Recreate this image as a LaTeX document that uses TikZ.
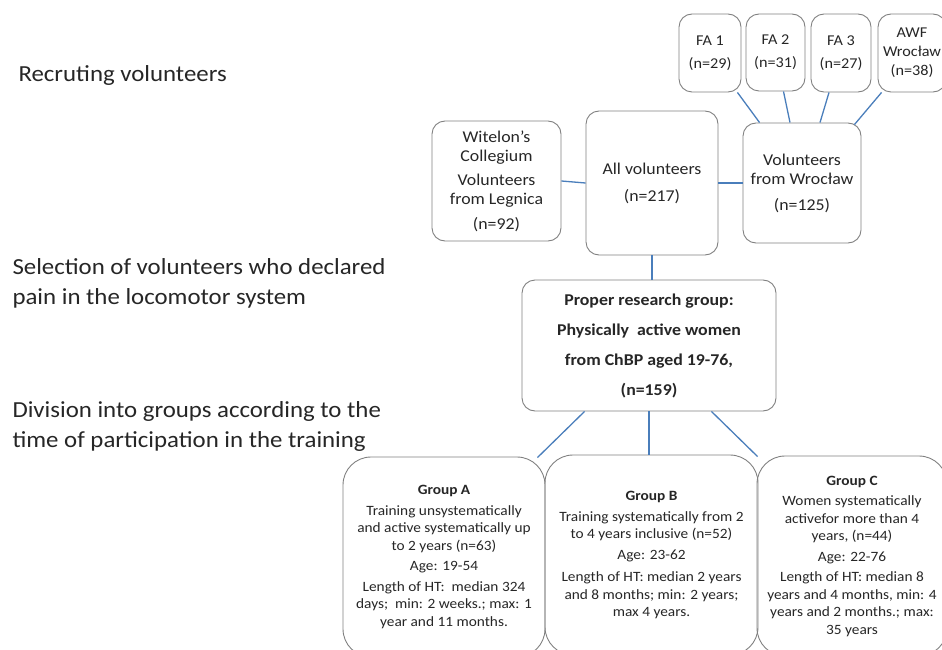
\documentclass[tikz,border=0pt]{standalone}
\usepackage{fontspec}
\setmainfont{Carlito}[FakeStretch=1.08]
\usetikzlibrary{calc}
\definecolor{enlaceazul}{RGB}{74,126,187}
\definecolor{bordegris}{RGB}{128,128,128}

\begin{document}
\begin{tikzpicture}[x=1pt,y=-1pt,
  caja/.style={draw=bordegris, line width=0.9pt, rounded corners=13pt, align=center,
    text=black!85, inner sep=1pt, font=\fontsize{16.5}{19}\selectfont},
  grupo/.style={draw=bordegris, line width=0.9pt, rounded corners=28pt, align=center,
    text=black!85, inner sep=1pt, minimum height=200pt, font=\fontsize{14.2}{17.5}\selectfont},
  enlace/.style={draw=enlaceazul, line width=1.3pt},
  rotulo/.style={anchor=west, align=left, text=black!85, font=\fontsize{23}{30}\selectfont}]
  \useasboundingbox (0,0) rectangle (942,650);
  \clip (0,0) rectangle (942,650);

  % Etapas
  \node[rotulo] (etapa1) at (15,75) {Recruting volunteers};
  \node[rotulo] (etapa2) at (9,283) {Selection of volunteers who declared\\pain in the locomotor system};
  \node[rotulo] (etapa3) at (9,426) {Division into groups according to the\\time of participation in the training};

  % Centros de reclutamiento
  \node[caja, minimum width=62pt, minimum height=78pt, font=\fontsize{15}{19}\selectfont] (fa1) at (710,53) {FA 1\\[4pt](n=29)};
  \node[caja, minimum width=59pt, minimum height=77pt, font=\fontsize{15}{19}\selectfont] (fa2) at (775.5,52.5) {FA 2\\[4pt](n=31)};
  \node[caja, minimum width=60pt, minimum height=78pt, font=\fontsize{15}{19}\selectfont] (fa3) at (841,53) {FA 3\\[4pt](n=27)};
  \node[caja, minimum width=68pt, minimum height=78pt, font=\fontsize{15}{19}\selectfont] (awf) at (912,53) {AWF\\Wrocław\\(n=38)};

  % Voluntarios
  \node[caja, minimum width=129pt, minimum height=120pt] (legnica) at (496.5,181)
    {Witelon's\\Collegium\\[5pt]Volunteers\\from Legnica\\[6pt](n=92)};
  \node[caja, minimum width=132pt, minimum height=144pt] (todos) at (652,183)
    {All volunteers\\[8pt](n=217)};
  \node[caja, minimum width=118pt, minimum height=120pt] (wroclaw) at (802,183)
    {Volunteers\\from Wrocław\\[7pt](n=125)};

  % Grupo propio
  \node[caja, minimum width=254pt, minimum height=131pt, font=\fontsize{16.5}{30}\selectfont\bfseries] (propio) at (649,345.5)
    {Proper research group:\\Physically\ \ active women\\from ChBP aged 19-76,\\(n=159)};

  % Grupos
  \node[grupo, minimum width=202pt] (grpA) at (444,557)
    {\textbf{Group A}\\[3pt]Training unsystematically\\and active systematically up\\to 2 years (n=63)\\[3pt]Age: 19-54\\[3pt]Length of HT:\ \ median 324\\days;\ \ min: 2 weeks.; max: 1\\year and 11 months.};
  \node[grupo, minimum width=213pt] (grpB) at (651.5,555)
    {\textbf{Group B}\\[3pt]Training systematically from 2\\to 4 years inclusive (n=52)\\[3pt]Age: 23-62\\[5pt]Length of HT: median 2 years\\and 8 months; min: 2 years;\\max 4 years.};
  \node[grupo, minimum width=190pt] (grpC) at (852,556)
    {\textbf{Group C}\\[3pt]Women systematically\\activefor more than 4\\years, (n=44)\\[3pt]Age: 22-76\\[3pt]Length of HT: median 8\\years and 4 months, min: 4\\years and 2 months.; max:\\35 years};

  % Enlaces
  \draw[enlace] ($(fa1.south east)+(-4,0)$) -- ($(wroclaw.north west)+(17,0)$);
  \draw[enlace] ($(fa2.south)+(8,0)$) -- ($(wroclaw.north)+(-12,0)$);
  \draw[enlace] ($(fa3.south)+(-12,0)$) -- ($(wroclaw.north)+(18,0)$);
  \draw[enlace] ($(awf.south west)+(4,0)$) -- ($(wroclaw.north east)+(-7,2)$);
  \draw[enlace] (legnica.east) -- (todos.west);
  \draw[enlace] (todos.east) -- (wroclaw.west);
  \draw[enlace] (todos.south) -- (todos.south |- propio.north);
  \draw[enlace] ($(propio.south west)+(63,0)$) -- ($(grpA.north east)+(-8,1)$);
  \draw[enlace] (propio.south) -- (propio.south |- grpB.north);
  \draw[enlace] ($(propio.south east)+(-65,0)$) -- ($(grpC.north west)+(1,1)$);
\end{tikzpicture}
\end{document}
